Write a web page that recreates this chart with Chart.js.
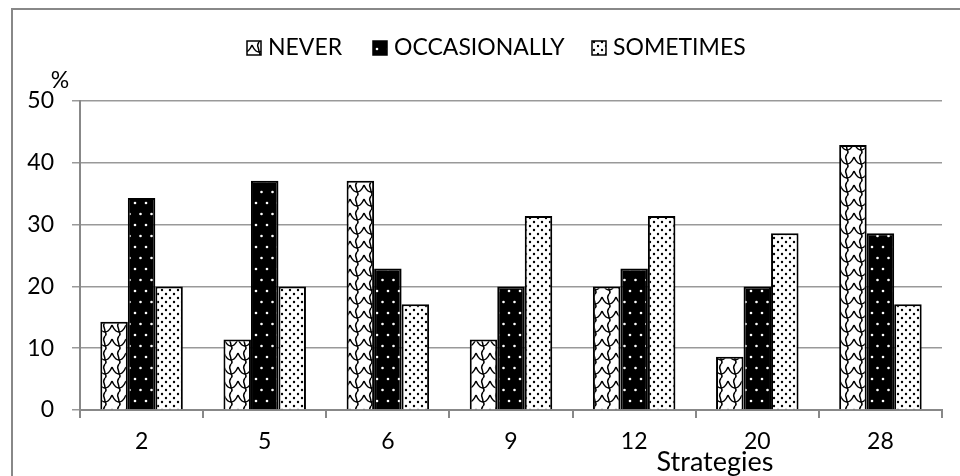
<!DOCTYPE html>
<html>
<head>
<meta charset="utf-8">
<script src="https://cdn.jsdelivr.net/npm/chart.js@4/dist/chart.umd.min.js"></script>
<style>
html,body{margin:0;padding:0;background:#fff;}
#wrap{position:relative;width:960px;height:476px;}
</style>
</head>
<body>
<div id="wrap"><canvas id="c"></canvas></div>
<script>
const categories = ['2', '5', '6', '9', '12', '20', '28'];
const seriesNames = ['NEVER', 'OCCASIONALLY', 'SOMETIMES'];
const neverValues = [14.3, 11.4, 37.1, 11.4, 20, 8.6, 42.9];
const occasionallyValues = [34.3, 37.1, 22.9, 20, 22.9, 20, 28.6];
const sometimesValues = [20, 20, 17.1, 31.4, 31.4, 28.6, 17.1];
const yTickValues = [0, 10, 20, 30, 40, 50];
const yUnit = '%';
const xTitle = 'Strategies';

const FONT = 'Lato, "Liberation Sans", sans-serif';
const FSIZE = 23;

function makeTile(w, h, draw) {
  const c = document.createElement('canvas');
  c.width = w; c.height = h;
  const g = c.getContext('2d');
  draw(g, w, h);
  return document.createElement('canvas').getContext('2d').createPattern(c, 'repeat');
}
const scalePattern = makeTile(14, 14, (g, w, h) => {
  g.fillStyle = '#fff'; g.fillRect(0, 0, w, h);
  g.strokeStyle = '#000'; g.lineWidth = 1.5;
  g.beginPath();
  g.moveTo(0, 3); g.quadraticCurveTo(3, 10, 7, 10);
  g.quadraticCurveTo(11, 10, 14, 3);
  g.stroke();
  g.beginPath();
  g.moveTo(7, 10); g.quadraticCurveTo(9, 12, 7, 14);
  g.stroke();
  g.beginPath();
  g.moveTo(7, 0); g.quadraticCurveTo(5, 3, 6, 5); g.quadraticCurveTo(7, 8, 7, 10);
  g.stroke();
});
const blackDotPattern = makeTile(11, 22, (g, w, h) => {
  g.fillStyle = '#000'; g.fillRect(0, 0, w, h);
  g.fillStyle = '#fff';
  g.beginPath(); g.arc(3, 5, 1.3, 0, Math.PI * 2); g.fill();
  g.beginPath(); g.arc(8.5, 16, 1.3, 0, Math.PI * 2); g.fill();
});
const whiteDotPattern = makeTile(8, 8, (g, w, h) => {
  g.fillStyle = '#fff'; g.fillRect(0, 0, w, h);
  g.fillStyle = '#000';
  g.beginPath(); g.arc(2, 2, 1.2, 0, Math.PI * 2); g.fill();
  g.beginPath(); g.arc(6, 6, 1.2, 0, Math.PI * 2); g.fill();
});
const fills = [scalePattern, blackDotPattern, whiteDotPattern];
const seriesValues = [neverValues, occasionallyValues, sometimesValues];

const decor = {
  id: 'decor',
  beforeDraw(chart) {
    const ctx = chart.ctx;
    ctx.save();
    ctx.strokeStyle = '#888';
    ctx.lineWidth = 2;
    ctx.beginPath();
    ctx.moveTo(12, 476); ctx.lineTo(12, 9); ctx.lineTo(960, 9);
    ctx.stroke();
    ctx.restore();
  },
  afterDraw(chart) {
    const ctx = chart.ctx;
    ctx.save();
    ctx.font = FSIZE + 'px ' + FONT;
    ctx.fillStyle = '#000';
    ctx.textBaseline = 'middle';
    const boxX = [247, 373, 592];
    seriesNames.forEach((name, i) => {
      const bx = boxX[i], by = 41, bs = 14;
      ctx.fillStyle = fills[i];
      ctx.fillRect(bx, by, bs, bs);
      ctx.strokeStyle = '#000'; ctx.lineWidth = 1.5;
      ctx.strokeRect(bx, by, bs, bs);
      ctx.fillStyle = '#000';
      ctx.textAlign = 'left';
      ctx.fillText(name, bx + bs + 7, 48);
    });
    ctx.textAlign = 'center';
    ctx.fillText(yUnit, 60, 81);
    ctx.font = '27px ' + FONT;
    ctx.fillText(xTitle, 715, 462);
    ctx.restore();
  }
};

new Chart(document.getElementById('c'), {
  type: 'bar',
  data: {
    labels: categories,
    datasets: seriesNames.map((n, i) => ({
      label: n,
      data: seriesValues[i],
      backgroundColor: fills[i],
      borderColor: '#000',
      borderWidth: 2,
      barPercentage: 1,
      categoryPercentage: 0.67
    }))
  },
  options: {
    responsive: true,
    maintainAspectRatio: false,
    animation: false,
    layout: { padding: { left: 0, right: 18, top: 101, bottom: 0 } },
    plugins: { legend: { display: false }, tooltip: { enabled: false } },
    scales: {
      x: {
        grid: { drawOnChartArea: false, drawTicks: true, tickLength: 8, color: '#888', lineWidth: 2, offset: true },
        border: { color: '#888', width: 2 },
        ticks: { color: '#000', font: { family: FONT, size: FSIZE }, padding: 10 },
        afterFit(s) { s.height = 66; }
      },
      y: {
        min: 0, max: 50,
        afterBuildTicks(s) { s.ticks = yTickValues.map(v => ({ value: v })); },
        grid: { color: '#999', lineWidth: 1.5, tickLength: 8 },
        border: { color: '#888', width: 2 },
        ticks: { color: '#000', font: { family: FONT, size: FSIZE }, padding: 18 },
        afterFit(s) { s.width = 80; }
      }
    }
  },
  plugins: [decor]
});
</script>
</body>
</html>
